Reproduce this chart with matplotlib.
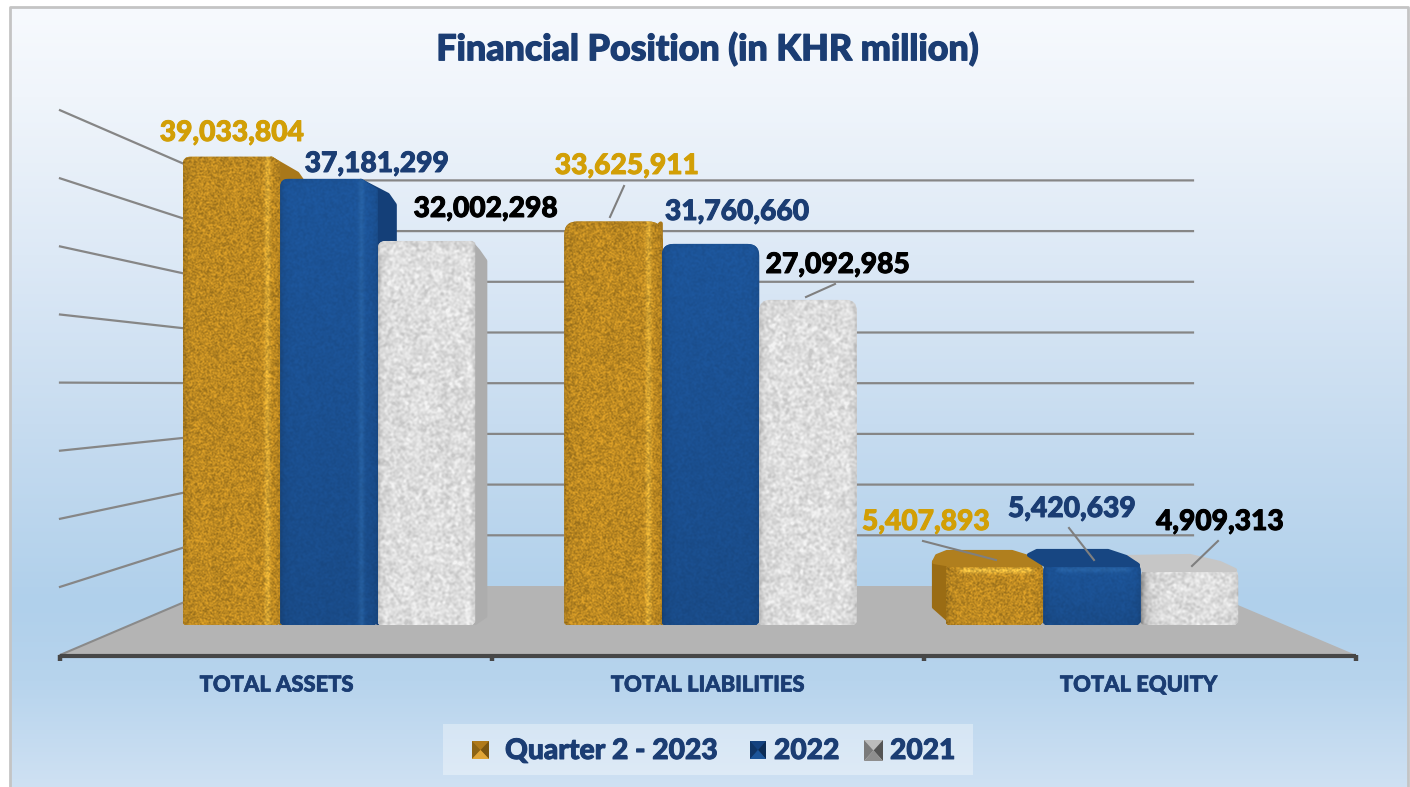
import numpy as np
import matplotlib
matplotlib.use("Agg")
import matplotlib.pyplot as plt
import matplotlib.patheffects as pe
from matplotlib.path import Path
from matplotlib.patches import Polygon, Rectangle

# ---- data ----
categories = ["TOTAL ASSETS", "TOTAL LIABILITIES", "TOTAL EQUITY"]
series_names = ["Quarter 2 - 2023", "2022", "2021"]
q2_2023 = [39033804, 33625911, 5407893]
y2022 = [37181299, 31760660, 5420639]
y2021 = [32002298, 27092985, 4909313]
grid_ticks = [5e6, 10e6, 15e6, 20e6, 25e6, 30e6, 35e6, 40e6]
title = "Financial Position (in KHR million)"

W, H = 1410, 787
FONT = "Lato"
NAVY = "#1b3d73"
GOLD_T = "#d29f06"
WEIGHT = 900
plt.rcParams["font.family"] = [FONT, "DejaVu Sans"]

fig = plt.figure(figsize=(W / 100, H / 100), dpi=100, facecolor="white")

# pixel-space layer for chart furniture
ax_px = fig.add_axes([0, 0, 1, 1], zorder=1)
ax_px.set_xlim(0, W); ax_px.set_ylim(H, 0); ax_px.axis("off")
# bar layer: category units on x, values on y
PX_CAT, X0_PX, PX_VAL, BASE_PX = 381.5, 329.0, 12.0e-6, 625.0
ax = fig.add_axes([0, 0, 1, 1], zorder=2)
ax.set_xlim(-X0_PX / PX_CAT, (W - X0_PX) / PX_CAT)
ax.set_ylim(-(H - BASE_PX) / PX_VAL, BASE_PX / PX_VAL)
ax.axis("off"); ax.patch.set_alpha(0)
# text layer
ax_t = fig.add_axes([0, 0, 1, 1], zorder=3)
ax_t.set_xlim(0, W); ax_t.set_ylim(H, 0); ax_t.axis("off"); ax_t.patch.set_alpha(0)

# ---- background ----
stops_y = [0, 90, 250, 420, 600, 680, 787]
stops_c = [(247, 250, 254), (240, 245, 251), (221, 233, 246), (199, 220, 240),
           (176, 208, 235), (183, 212, 237), (207, 225, 243)]
rows = np.arange(H)
grad = np.stack([np.interp(rows, stops_y, [c[i] for c in stops_c]) for i in range(3)], axis=1) / 255
ax_px.imshow(grad[:, None, :], extent=(10, 1408, H, 7), aspect="auto", zorder=0, interpolation="bilinear")
ax_px.set_xlim(0, W); ax_px.set_ylim(H, 0)
ax_px.plot([10, 10, 1408, 1408], [H, 7, 7, H], color="#c4c4c4", lw=2, zorder=1)

# ---- floor, walls, axis ----
BX0, BX1, BY, FX0, FX1, FY = 222, 1193, 586, 60, 1356, 655
ax_px.add_patch(Polygon([(FX0, FY), (BX0, BY), (BX1, BY), (FX1, FY)], fc="#b4b4b4", ec="none", zorder=2))
ax_px.plot([FX0, BX0], [FY, BY], color="#8a8a8a", lw=1.5, zorder=3)
for v in grid_ticks:
    yb = BY - v * 50.7 / 5e6
    yf = FY - v * 68.1 / 5e6
    ax_px.plot([FX0, BX0, BX1], [yf, yb, yb], color="#868686", lw=1.6, zorder=3)
ax_px.plot([FX0, FX1], [FY + 1, FY + 1], color="#474747", lw=3, zorder=4, solid_capstyle="butt")
for i in range(4):
    xt = FX0 + i * (FX1 - FX0) / 3
    ax_px.plot([xt, xt], [FY, FY + 6], color="#474747", lw=3.2, zorder=4, solid_capstyle="butt")


# ---- texture helpers (surface finish only, no data) ----
def grain(h, w, seed, blur):
    yy, xx = np.mgrid[0:h, 0:w]
    n = np.modf(np.abs(np.sin(xx * 12.9898 + yy * 78.233 + seed) * 43758.5453))[0]
    for _ in range(blur):
        n = (n + np.roll(n, 1, 0) + np.roll(n, 1, 1) + np.roll(np.roll(n, 1, 0), 1, 1)) / 4
    n = (n - n.mean()) / (n.std() + 1e-9)
    return np.clip(n, -2.5, 2.5)


def rgb(t):
    return tuple(v / 255 for v in t)


STYLE = {
    0: dict(base=(190, 138, 34), amp=0.075, blur=1, side="#a9781a", top="#b07f1e", left="#9a6c14",
            ridge=(240, 192, 66), band=0.9),
    1: dict(base=(27, 80, 145), amp=0.02, blur=2, side="#143f78", top="#174682", left="#143f78",
            ridge=(45, 105, 170), band=0.6),
    2: dict(base=(222, 222, 222), amp=0.04, blur=4, side="#adadad", top="#c6c6c6", left="#bdbdbd",
            ridge=(235, 235, 235), band=0.0),
}
# per category, per series: corner radius, chamfer of the top right, side-face reach (dx, dy), ridge inset
SHAPE = {
    0: [dict(r=8, c=8, dx=26, dy=22, ridge=11), dict(r=8, c=16, dx=19, dy=21, ridge=14), dict(r=8, c=3, dx=12, dy=15, ridge=4)],
    1: [dict(r=13, c=0, dx=1, dy=14, ridge=11), dict(r=12, c=0, dx=0, dy=0, ridge=0), dict(r=11, c=0, dx=0, dy=0, ridge=0)],
    2: [dict(r=12, c=0, dx=0, dy=0, ridge=0), dict(r=12, c=0, dx=0, dy=0, ridge=0), dict(r=12, c=0, dx=0, dy=0, ridge=0)],
}
# top and left faces of the short (equity) blocks, in pixels
EQUITY_FACES = {
    0: [[(934, 562), (937, 556), (947, 552), (1012, 552), (1028, 557), (1040, 565), (952, 565)],
        [(934, 562), (952, 565), (952, 623), (934, 607)]],
    1: [[(1029, 555), (1037, 551), (1108, 551), (1126, 557), (1138, 565), (1045, 565)]],
    2: [[(1127, 557), (1190, 556), (1220, 563), (1235, 570), (1143, 570)]],
}
DRAW_ORDER = {0: [0, 1, 2], 1: [0, 1, 2], 2: [0, 2, 1]}

all_series = [q2_2023, y2022, y2021]
slot = 97.5 / PX_CAT
to_px_x = lambda x: X0_PX + x * PX_CAT
to_px_y = lambda v: BASE_PX - v * PX_VAL

z = 10
for c in range(3):
    for s in DRAW_ORDER[c]:
        st, sh = STYLE[s], SHAPE[c][s]
        rect = ax.bar(c + (s - 1) * slot, all_series[s][c], width=slot, color=rgb(st["base"]),
                      linewidth=0, zorder=z + 2)[0]
        x0d, x1d = rect.get_x(), rect.get_x() + rect.get_width()
        vd = rect.get_height()
        x0, x1, top = to_px_x(x0d), to_px_x(x1d), to_px_y(vd)
        r, cf = sh["r"], sh["c"]
        # side face behind the front
        if sh["dx"]:
            ax.add_patch(Polygon([(x1 - cf - 1, top + 2), (x1 + sh["dx"] - 9, top + sh["dy"] - 5),
                                  (x1 + sh["dx"] - 2, top + sh["dy"] + 5), (x1 + sh["dx"] - 2, BASE_PX - 9),
                                  (x1, BASE_PX - 2)], fc=st["side"], ec=st["side"], lw=3, joinstyle="round",
                                 zorder=z, transform=ax_px.transData))
        # outline of the front face
        sl = 0.66
        verts = [(x0, BASE_PX - 2), (x0, top + r), (x0, top), (x0 + r, top)]
        codes = [Path.MOVETO, Path.LINETO, Path.CURVE3, Path.CURVE3]
        if cf:
            verts += [(x1 - cf, top), (x1, top + cf * sl)]
            codes += [Path.LINETO, Path.LINETO]
        else:
            verts += [(x1 - r, top), (x1, top), (x1, top + r)]
            codes += [Path.LINETO, Path.CURVE3, Path.CURVE3]
        verts += [(x1, BASE_PX - 3), (x1 - 3, BASE_PX), (x0 + 2, BASE_PX), (x0, BASE_PX - 2)]
        codes += [Path.LINETO, Path.LINETO, Path.LINETO, Path.CLOSEPOLY]
        clip = Path(verts, codes)
        rect.set_clip_path(clip, ax_px.transData)
        # textured surface
        hh, ww = int(BASE_PX - top) + 1, int(x1 - x0) + 1
        n = grain(hh, ww, seed=3.1 * (c + 1) + 7.7 * s, blur=st["blur"])
        shade = 1 + st["amp"] * n
        img = np.ones((hh, ww, 3)) * np.array(st["base"], float)
        xx = np.arange(ww)[None, :]
        yy = np.arange(hh)[:, None]
        if s == 1:  # blue gets lighter towards the top
            img = img * (1.06 - 0.12 * yy / max(hh, 1))[:, :, None]
        if sh["ridge"]:
            d = np.exp(-((xx - (ww - sh["ridge"] - 3)) / 3.0) ** 2) * np.ones((hh, ww))
            img = img + (np.array(st["ridge"], float) - img) * (0.55 * d)[:, :, None]
        if c == 2 and st["band"]:
            d = np.exp(-((yy - 10) / 3.0) ** 2) * np.clip(np.minimum(xx - 10, ww - 8 - xx) / 8, 0, 1)
            img = img + (np.array(st["ridge"], float) - img) * (st["band"] * d)[:, :, None]
        # soft edges
        edge = 1 - 0.14 * np.exp(-xx / 3.5) - 0.10 * np.exp(-(ww - 1 - xx) / 3.5)
        if c == 2 and s == 2:  # shadow cast by the neighbouring blue block
            edge = edge - 0.22 * np.exp(-xx / 7.0)
        edge = edge - 0.05 * np.exp(-yy / 4.0)
        img = np.clip(img * shade[:, :, None] * edge[:, :, None], 0, 255) / 255
        im = ax.imshow(img, extent=(x0d, x1d, 0, vd), aspect="auto", origin="upper",
                       zorder=z + 3, interpolation="bilinear")
        im.set_clip_path(clip, ax_px.transData)
        # faces of the short blocks (drawn with a thick round edge for soft corners)
        if c == 2:
            for k, poly in enumerate(EQUITY_FACES[s]):
                col = st["top"] if k == 0 else st["left"]
                ax.add_patch(Polygon(poly, fc=col, ec=col, lw=3, joinstyle="round", zorder=z + (4 if k == 0 else 1),
                                     transform=ax_px.transData))
        z += 10
ax.set_xlim(-X0_PX / PX_CAT, (W - X0_PX) / PX_CAT)
ax.set_ylim(-(H - BASE_PX) / PX_VAL, BASE_PX / PX_VAL)


# ---- texts ----
def heavy(col, lw=0.7):
    return [pe.withStroke(linewidth=lw, foreground=col)]


ax_t.text(708, 49, title, ha="center", va="center", fontsize=25.8, fontweight=WEIGHT, color=NAVY,
          path_effects=heavy(NAVY, 0.9))
for i, name in enumerate(categories):
    xc = [277, 708, 1139][i]
    ax_t.text(xc, 685, name, ha="center", va="center", fontsize=15.8, fontweight=WEIGHT, color=NAVY,
              path_effects=heavy(NAVY, 0.5))

LABEL_POS = [[(232, 133), (627, 166), (926, 522)],
             [(377, 164), (737, 212), (1072, 509)],
             [(486, 209), (838, 265), (1220, 522)]]
LABEL_COL = [GOLD_T, NAVY, "#000000"]
for s in range(3):
    for c in range(3):
        px, py = LABEL_POS[s][c]
        ax_t.text(px, py, f"{all_series[s][c]:,}", ha="center", va="center", fontsize=20.3,
                  fontweight=WEIGHT, color=LABEL_COL[s], path_effects=heavy(LABEL_COL[s]))
LEADERS = [((624, 186), (610, 217)), ((835, 284), (806, 297)), ((923, 541), (996, 560)),
           ((1069, 528), (1094, 560)), ((1218, 541), (1192, 566))]
for a, b in LEADERS:
    ax_t.plot([a[0], b[0]], [a[1], b[1]], color="#7f7f7f", lw=1.5)

# ---- legend ----
ax_t.add_patch(Rectangle((443, 724), 530, 51, fc="white", ec="none", alpha=0.35))
def swatch(x0, y0, w, h, top, left, right, bottom, mid):
    xc, yc = x0 + w / 2, y0 + h / 2
    ax_t.add_patch(Rectangle((x0, y0), w, h, fc=mid, ec="none"))
    ax_t.add_patch(Polygon([(x0, y0), (x0 + w, y0), (xc, yc)], fc=top, ec="none"))
    ax_t.add_patch(Polygon([(x0, y0), (x0, y0 + h), (xc, yc)], fc=left, ec="none"))
    ax_t.add_patch(Polygon([(x0 + w, y0), (x0 + w, y0 + h), (xc, yc)], fc=right, ec="none"))
    ax_t.add_patch(Polygon([(x0, y0 + h), (x0 + w, y0 + h), (xc, yc)], fc=bottom, ec="none"))
swatch(472, 741, 17, 18, "#b07a1a", "#8d6414", "#7a5510", "#e0a536", "#c08a20")
swatch(750, 741, 16, 18, "#14427f", "#0f3566", "#0c2c55", "#1c5599", "#174a8a")
swatch(864, 740, 19, 21, "#bcbcbc", "#7a7a7a", "#555555", "#8e8e8e", "#d8d8d8")
for txt, xl in zip(series_names, [505, 774, 890]):
    ax_t.text(xl, 751, txt, ha="left", va="center", fontsize=20.3, fontweight=WEIGHT, color=NAVY,
              path_effects=heavy(NAVY))

fig.savefig("out.png", dpi=100, facecolor="white")
